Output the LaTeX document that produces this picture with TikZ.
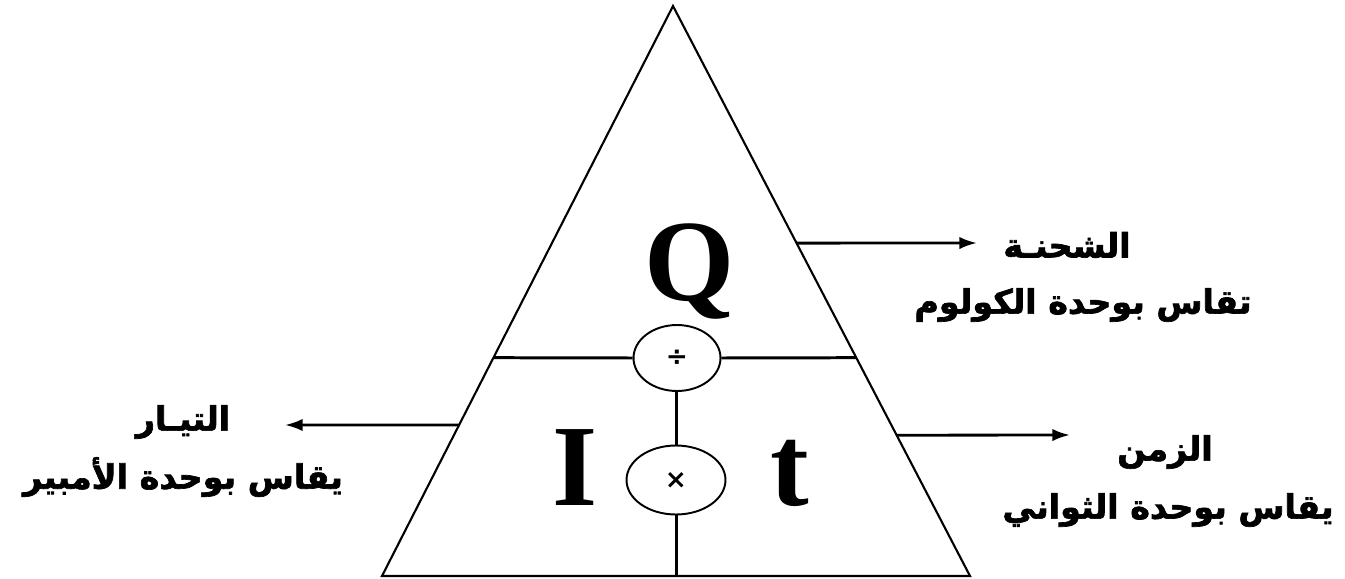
\documentclass[tikz,border=0pt]{standalone}
\usepackage{fontspec}
\setmainfont{Liberation Serif}
\newfontfamily\arabicfont[Script=Arabic, BoldFeatures={FakeBold=2}]{DejaVu Sans}
\newfontfamily\symfont{DejaVu Sans}
\TeXXeTstate=1
\usepackage{tikz}
\usetikzlibrary{arrows.meta, calc, shapes.geometric}
\tikzset{
  qty/.style={font=\bfseries\fontsize{66}{70}\selectfont, inner sep=0pt, anchor=base},
  oper/.style={draw, ellipse, line width=1.1pt, inner sep=0pt, font=\symfont\bfseries\fontsize{15}{17}\selectfont},
  arlabel/.style={font=\arabicfont\bfseries\fontsize{19}{23}\selectfont, inner sep=0pt},
  pointer/.style={line width=1.6pt, -{Latex[length=10pt, width=7pt]}}
}

\begin{document}
\begin{tikzpicture}[x=0.02cm, y=-0.02cm]
  \useasboundingbox (0,0) rectangle (1345,578);
  % triangle
  \coordinate (apex) at (673,6);
  \coordinate (bl) at (382,576);
  \coordinate (br) at (970,576);
  \draw[line width=1.2pt, line join=miter] (apex) -- (bl) -- (br) -- cycle;
  % operators
  \node[oper, minimum width=1.74cm, minimum height=1.32cm] (div) at (677,358) {\raisebox{-4pt}{÷}};
  \node[oper, minimum width=1.98cm, minimum height=1.38cm] (mul) at (676,480) {\raisebox{-5pt}{×}};
  % dividers
  \coordinate (hl) at ($(apex)!0.617!(bl)$);
  \coordinate (hr) at ($(apex)!0.617!(br)$);
  \coordinate (foot) at (676,576);
  \draw[line width=1.7pt] (hl) -- (div.west);
  \draw[line width=1.7pt] (div.east) -- (hr);
  \draw[line width=1.7pt] (mul.north |- div.south) -- (mul.north);
  \draw[line width=1.7pt] (mul.south) -- (foot);
  % letters
  \node[qty] (Q) at (690,300) {Q};
  \node[qty] (I) at (575,505) {I};
  \node[qty] (t) at (790,505) {t};
  % arrows
  \coordinate (qfrom) at ($(apex)!0.416!(br)$);
  \coordinate (qto) at (977,243);
  \coordinate (ifrom) at ($(apex)!0.735!(bl)$);
  \coordinate (ito) at (285,425);
  \coordinate (tfrom) at ($(apex)!0.753!(br)$);
  \coordinate (tto) at (1070,435);
  \draw[pointer] (qfrom) -- (qto);
  \draw[pointer] (ifrom) -- (ito);
  \draw[pointer] (tfrom) -- (tto);
  % labels
  \node[arlabel] (qname) at (1067,245) {\beginR الشحنـة\endR};
  \node[arlabel] (qunit) at (1083,305) {\beginR تقاس بوحدة الكولوم\endR};
  \node[arlabel] (iname) at (183,422) {\beginR التيـار\endR};
  \node[arlabel] (iunit) at (183,477) {\beginR يقاس بوحدة الأمبير\endR};
  \node[arlabel] (tname) at (1165,452) {\beginR الزمن\endR};
  \node[arlabel] (tunit) at (1168,510) {\beginR يقاس بوحدة الثواني\endR};
\end{tikzpicture}
\end{document}
